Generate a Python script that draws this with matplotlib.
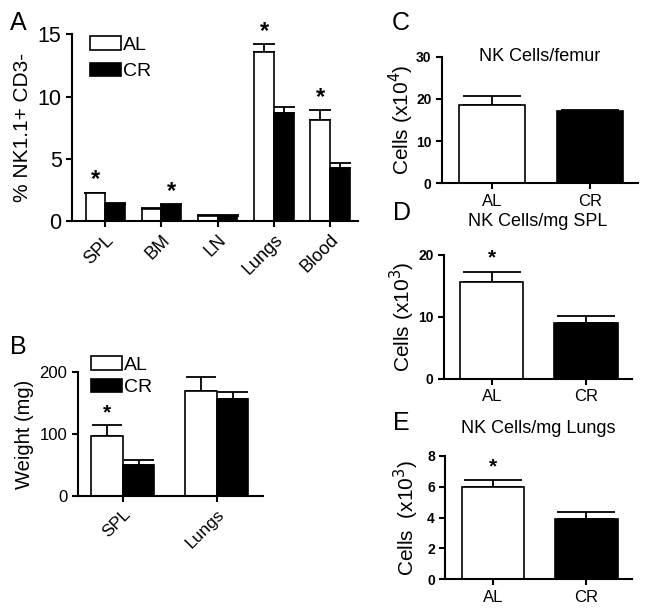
import matplotlib
matplotlib.use("Agg")
import matplotlib.pyplot as plt
import numpy as np

plt.rcParams['font.family'] = ['Liberation Sans', 'DejaVu Sans']

# panel A: % NK1.1+ CD3- per tissue
tissues_a = ['SPL', 'BM', 'LN', 'Lungs', 'Blood']
al_a = [2.25, 1.0, 0.45, 13.6, 8.1]
al_a_err = [0.05, 0.05, 0.05, 0.6, 0.8]
cr_a = [1.4, 1.3, 0.45, 8.7, 4.25]
cr_a_err = [0.08, 0.05, 0.05, 0.5, 0.45]
stars_a = [('AL', 0), ('CR', 1), ('AL', 3), ('AL', 4)]

# panel B: organ weight
tissues_b = ['SPL', 'Lungs']
al_b = [97, 170]
al_b_err = [18, 22]
cr_b = [50, 156]
cr_b_err = [9, 12]

# panels C-E: AL vs CR
groups = ['AL', 'CR']
c_vals = [18.6, 17.1]
c_err = [2.2, 0.2]
d_vals = [15.6, 9.0]
d_err = [1.7, 1.1]
e_vals = [6.0, 3.88]
e_err = [0.45, 0.5]

fig = plt.figure(figsize=(6.49, 6.11), dpi=100)


def style(ax, lw=1.5):
    ax.spines['top'].set_visible(False)
    ax.spines['right'].set_visible(False)
    ax.spines['left'].set_linewidth(lw)
    ax.spines['bottom'].set_linewidth(lw)
    ax.tick_params(direction='out', width=lw, length=4)


def grouped(ax, x, al, al_err, cr, cr_err, w, cap):
    ax.bar(x - w/2, al, w, color='white', edgecolor='black', linewidth=1.2, label='AL', zorder=2)
    ax.errorbar(x - w/2, al, yerr=[np.zeros(len(al)), al_err], fmt='none', ecolor='black',
                elinewidth=1.3, capsize=cap, capthick=1.3, zorder=1)
    ax.bar(x + w/2, cr, w, color='black', edgecolor='black', linewidth=1.2, label='CR', zorder=2)
    ax.errorbar(x + w/2, cr, yerr=[np.zeros(len(cr)), cr_err], fmt='none', ecolor='black',
                elinewidth=1.3, capsize=cap, capthick=1.3, zorder=1)


# ---- A
axA = fig.add_axes([0.111, 0.638, 0.441, 0.306])
xa = np.arange(len(tissues_a))
wa = 0.35
grouped(axA, xa, al_a, al_a_err, cr_a, cr_a_err, wa, 8)
for grp, i in stars_a:
    if grp == 'AL':
        axA.text(i - wa/2, al_a[i] + al_a_err[i] + 0.1, '*', ha='center', va='bottom', fontsize=17, fontweight='bold')
    else:
        axA.text(i + wa/2, cr_a[i] + cr_a_err[i] + 0.1, '*', ha='center', va='bottom', fontsize=17, fontweight='bold')
axA.set_xlim(-0.59, 4.5)
axA.set_ylim(0, 15)
axA.set_yticks([0, 5, 10, 15])
axA.set_xticks(xa)
axA.set_xticklabels(tissues_a, rotation=45, ha='right', rotation_mode='anchor', fontsize=13)
axA.tick_params(axis='y', labelsize=15.5)
axA.set_ylabel('% NK1.1+ CD3-', fontsize=15)
style(axA)
axA.legend(loc='upper left', bbox_to_anchor=(0.035, 1.03), frameon=False, fontsize=14,
           handlelength=1.6, handleheight=0.7, handletextpad=0.1, labelspacing=0.45, borderaxespad=0)
fig.text(0.015, 0.962, 'A', fontsize=18, va='center')

# ---- B
axB = fig.add_axes([0.120, 0.188, 0.285, 0.203])
xb = np.arange(len(tissues_b))
wb = 0.335
grouped(axB, xb, al_b, al_b_err, cr_b, cr_b_err, wb, 11)
axB.text(-wb/2, al_b[0] + al_b_err[0] + 4, '*', ha='center', va='bottom', fontsize=15, fontweight='bold')
axB.set_xlim(-0.48, 1.49)
axB.set_ylim(0, 200)
axB.set_yticks([0, 100, 200])
axB.set_xticks(xb)
axB.set_xticklabels(tissues_b, rotation=45, ha='right', rotation_mode='anchor', fontsize=12.5)
axB.tick_params(axis='y', labelsize=12)
axB.set_ylabel('Weight (mg)', fontsize=14.5)
style(axB)
axB.legend(loc='upper left', bbox_to_anchor=(0.03, 1.19), frameon=False, fontsize=14,
           handlelength=1.6, handleheight=0.7, handletextpad=0.1, labelspacing=0.25, borderaxespad=0)
fig.text(0.015, 0.432, 'B', fontsize=18, va='center')


def single(rect, vals, err, ylim, yticks, ylabel, lab_x, title, tpos, star, letter, lpos):
    ax = fig.add_axes(rect)
    x = np.arange(len(groups))
    ax.bar(x, vals, 0.67, color=['white', 'black'], edgecolor='black', linewidth=1.2, zorder=2)
    ax.errorbar(x, vals, yerr=[np.zeros(len(vals)), err], fmt='none', ecolor='black',
                elinewidth=1.3, capsize=21, capthick=1.3, zorder=1)
    if star:
        ax.text(0, vals[0] + err[0] + ylim * 0.03, '*', ha='center', va='bottom', fontsize=15, fontweight='bold')
    ax.set_xlim(-0.51, 1.49)
    ax.set_ylim(0, ylim)
    ax.set_yticks(yticks)
    ax.set_xticks(x)
    ax.set_xticklabels(groups, fontsize=12)
    ax.tick_params(axis='y', labelsize=10)
    for t in ax.get_yticklabels():
        t.set_fontweight('bold')
    ax.set_ylabel(ylabel, fontsize=15)
    ax.yaxis.set_label_coords(lab_x, 0.5)
    ax.text(0.5, tpos, title, transform=ax.transAxes, ha='center', va='center', fontsize=13)
    style(ax)
    fig.text(lpos[0], lpos[1], letter, fontsize=18, va='center')
    return ax


single([0.681, 0.700, 0.302, 0.207], c_vals, c_err, 30, [0, 10, 20, 30],
       'Cells (x10$^4$)', -0.135, 'NK Cells/femur', 1.0, False, 'C', (0.603, 0.962))
single([0.684, 0.380, 0.290, 0.203], d_vals, d_err, 20, [0, 10, 20],
       'Cells (x10$^3$)', -0.145, 'NK Cells/mg SPL', 1.265, True, 'D', (0.606, 0.651))
single([0.686, 0.052, 0.288, 0.202], e_vals, e_err, 8, [0, 2, 4, 6, 8],
       'Cells  (x10$^3$)', -0.13, 'NK Cells/mg Lungs', 1.22, True, 'E', (0.606, 0.308))

fig.savefig('out.png', dpi=100)
